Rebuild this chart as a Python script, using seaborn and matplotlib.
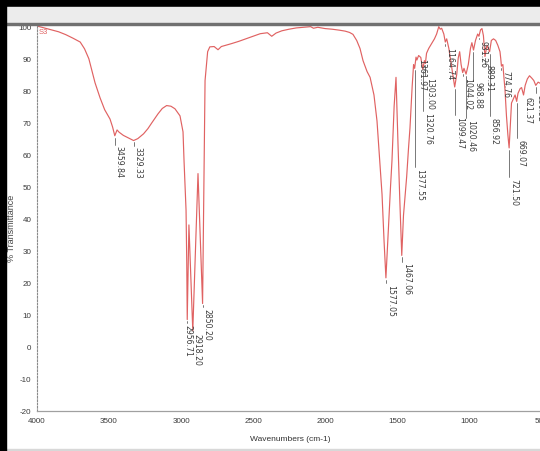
import numpy as np
import pandas as pd
import matplotlib
matplotlib.use("Agg")
import matplotlib.pyplot as plt
from matplotlib.patches import Rectangle
from matplotlib.ticker import MultipleLocator
from matplotlib.transforms import offset_copy
import seaborn as sns

# FTIR spectrum, sample S3
wavenumber = [
    4000, 3950, 3900, 3850, 3800, 3750, 3700, 3670, 3640, 3597, 3562, 3530,
    3493, 3475, 3459.84, 3444, 3430, 3400, 3360, 3329.33, 3300, 3260, 3230,
    3200, 3160, 3130, 3100, 3070, 3042, 3007, 2986, 2979, 2965, 2960, 2956.71,
    2945, 2918.20, 2882, 2850.20, 2833, 2815, 2800, 2770, 2743, 2720, 2650,
    2600, 2550, 2500, 2450, 2400, 2370, 2340, 2300, 2250, 2200, 2150, 2100,
    2080, 2050, 2000, 1950, 1900, 1860, 1830, 1806, 1780, 1757, 1736, 1708,
    1687, 1660, 1639, 1604, 1590, 1577.05, 1560, 1545, 1535, 1520, 1507, 1493,
    1480, 1467.06, 1455, 1433, 1420, 1410, 1395, 1385, 1377.55, 1368, 1361.97,
    1350, 1335, 1320.76, 1310, 1303.00, 1295, 1280, 1260, 1240, 1225, 1210,
    1200, 1190, 1175, 1164.74, 1155, 1140, 1120, 1099.47, 1085, 1075, 1065,
    1055, 1044.02, 1035, 1020.46, 1005, 990, 980, 968.88, 955, 940, 931.26,
    920, 910, 900, 889.31, 875, 856.92, 845, 830, 815, 800, 785, 780, 774.76,
    765, 750, 740, 730, 721.50, 712, 705, 690, 680, 669.07, 660, 645, 635,
    621.37, 610, 595, 580, 565, 550, 536.52, 520, 500, 480,
]
transmittance = [
    100.0, 99.4, 98.8, 98.2, 97.3, 96.2, 95.0, 92.9, 89.8, 82.3, 77.6, 73.9,
    71.0, 68.5, 65.8, 67.6, 66.9, 65.9, 65.0, 64.3, 64.9, 66.4, 68.0,
    70.0, 72.6, 74.3, 75.2, 75.0, 74.2, 72.0, 67.0, 58.0, 42.6, 26.0, 8.5,
    38.0, 5.0, 54.0, 13.5, 83.0, 92.0, 93.5, 93.6, 92.6, 93.6, 94.5,
    95.2, 96.0, 96.8, 97.6, 97.9, 96.8, 97.8, 98.5, 99.0, 99.4, 99.6, 99.8,
    99.3, 99.6, 99.2, 99.0, 98.7, 98.4, 98.0, 97.4, 95.5, 93.0, 89.2, 85.8,
    84.0, 78.5, 70.4, 47.5, 33.0, 21.5, 37.0, 50.0, 58.0, 75.0, 84.0, 63.0,
    45.0, 28.5, 41.0, 53.0, 62.0, 68.2, 81.0, 88.0, 86.8, 90.3, 89.4,
    90.8, 90.2, 86.5, 89.2, 88.3, 91.5, 93.0, 94.5, 96.0, 97.5, 99.8,
    99.0, 99.3, 97.5, 95.0, 96.0, 93.0, 87.0, 81.0, 85.0, 90.0, 92.0,
    88.0, 85.5, 86.8, 85.0, 88.0, 93.0, 94.8, 92.5, 95.5, 97.5, 96.8,
    98.8, 99.2, 97.0, 90.5, 94.0, 92.0, 95.5, 96.0, 95.5, 94.0, 92.0, 90.0, 87.5,
    88.0, 80.0, 72.0, 66.0, 62.0, 70.0, 76.0, 77.5, 78.5, 76.5, 79.0, 80.5, 80.8,
    78.5, 81.5, 83.5, 84.5, 83.8, 83.0, 81.5, 82.5, 82.0, 82.0,
]

# picked peaks
peak_wn = [3459.84, 3329.33, 2956.71, 2918.20, 2850.20, 1577.05, 1467.06,
           1377.55, 1361.97, 1320.76, 1303.00, 1164.74, 1099.47, 1044.02,
           1020.46, 968.88, 931.26, 889.31, 856.92, 774.76, 721.50, 669.07,
           621.37, 536.52]
peak_text = ["3459.84", "3329.33", "2956.71", "2918.20", "2850.20", "1577.05",
             "1467.06", "1377.55", "1361.97", "1320.76", "1303.00", "1164.74",
             "1099.47", "1044.02", "1020.46", "968.88", "931.26", "889.31",
             "856.92", "774.76", "721.50", "669.07", "621.37", "536.52"]
# where each peak label starts (in %T)
label_top = [63.0, 62.7, 7.4, 4.6, 12.3, 19.8, 26.5, 55.9, 90.1, 73.5, 84.3,
             93.8, 72.2, 84.3, 71.3, 83.2, 95.8, 88.3, 71.9, 86.4, 52.8, 65.1,
             78.4, 79.0]
# sideways nudge of a label from its marker line, in points
label_dx = [0, 0, -2.6, 0, 0, 0, 0, 0, 0, 0, 0, 0, 0, 0, 0, 0, 0, 0, 0, 0,
            0, 0, 0, 0]

xticks = [4000, 3500, 3000, 2500, 2000, 1500, 1000, 500]
yticks = [100, 90, 80, 70, 60, 50, 40, 30, 20, 10, 0, -10, -20]

sns.set_style("white")
plt.rcParams["font.family"] = ["Liberation Sans", "DejaVu Sans"]
plt.rcParams["axes.unicode_minus"] = False
narrow = ["Liberation Sans Narrow", "Liberation Sans", "DejaVu Sans"]

W, H = 540, 452
fig = plt.figure(figsize=(W / 100, H / 100), dpi=100)


def box(x0, y0, x1, y1):
    return [x0 / W, 1 - y1 / H, (x1 - x0) / W, (y1 - y0) / H]


ax = fig.add_axes(box(37, 25.4, 543.9, 412))
df = pd.DataFrame({"Wavenumber": wavenumber, "T": transmittance})
sns.lineplot(data=df, x="Wavenumber", y="T", sort=False, estimator=None,
             color="#e06262", lw=0.85, ax=ax)
ax.set_xlim(4000, 480)
ax.set_ylim(-20, 100.5)

# peak markers and labels
wn_arr = np.array(wavenumber)[::-1]
t_arr = np.array(transmittance)[::-1]
for w, txt, top, dx in zip(peak_wn, peak_text, label_top, label_dx):
    yc = float(np.interp(w, wn_arr, t_arr)) - 0.6
    if top < yc:
        ax.plot([w, w], [yc, top], color="#555555", lw=0.55, zorder=3)
    tr = offset_copy(ax.transData, fig=fig, x=dx, y=0, units="points")
    ax.text(w, top - 0.2, txt, rotation=-90, ha="left", va="top",
            fontsize=5.6, color="#3c3c3c", family="DejaVu Sans",
            clip_on=False, zorder=4, transform=tr)

ax.text(3988, 99.3, "S3", color="#e06262", fontsize=5.5, ha="left",
        va="top", family=narrow)

# axes styling
for s in ["top", "right"]:
    ax.spines[s].set_visible(False)
ax.spines["left"].set_linestyle((0, (1.5, 1.5)))
ax.spines["left"].set_color("#8a8a8a")
ax.spines["left"].set_linewidth(0.8)
ax.spines["bottom"].set_color("#a0a0a0")
ax.spines["bottom"].set_linewidth(0.9)

ax.set_xticks(xticks)
ax.set_yticks(yticks)
ax.xaxis.set_minor_locator(MultipleLocator(100))
ax.yaxis.set_minor_locator(MultipleLocator(2))
ax.tick_params(axis="both", which="major", direction="inout", length=5,
               width=0.6, color="#777777", labelsize=5.8, labelcolor="#3a3a3a",
               pad=1.5)
ax.tick_params(axis="both", which="minor", direction="inout", length=2.5,
               width=0.6, color="#888888")
for lab in ax.get_xticklabels() + ax.get_yticklabels():
    lab.set_family(narrow)
ax.set_xlabel("")
ax.set_ylabel("")

fig.text(11.5 / W, 1 - 228 / H, "% Transmittance", rotation=90, ha="center",
         va="center", fontsize=6.5, color="#444444", family=narrow)
fig.text(290 / W, 1 - 440 / H, "Wavenumbers (cm-1)", ha="center",
         va="center", fontsize=6.0, color="#333333", family=narrow)

# window frame around the plot
tf = fig.transFigure
fig.patches.append(Rectangle((0, 1 - 8 / H), 1, 8 / H, transform=tf,
                             color="black", zorder=5))
fig.patches.append(Rectangle((0, 1 - 23.5 / H), 1, 15.5 / H, transform=tf,
                             color="#ececec", zorder=5))
fig.patches.append(Rectangle((0, 1 - 25.5 / H), 1, 2 / H, transform=tf,
                             color="#707070", zorder=5))
fig.patches.append(Rectangle((0, 0), 5.5 / W, 1, transform=tf,
                             color="black", zorder=6))
fig.patches.append(Rectangle((0, 0), 1, 2 / H, transform=tf,
                             color="#d8d8d8", zorder=5))

fig.savefig("out.png", dpi=100)
